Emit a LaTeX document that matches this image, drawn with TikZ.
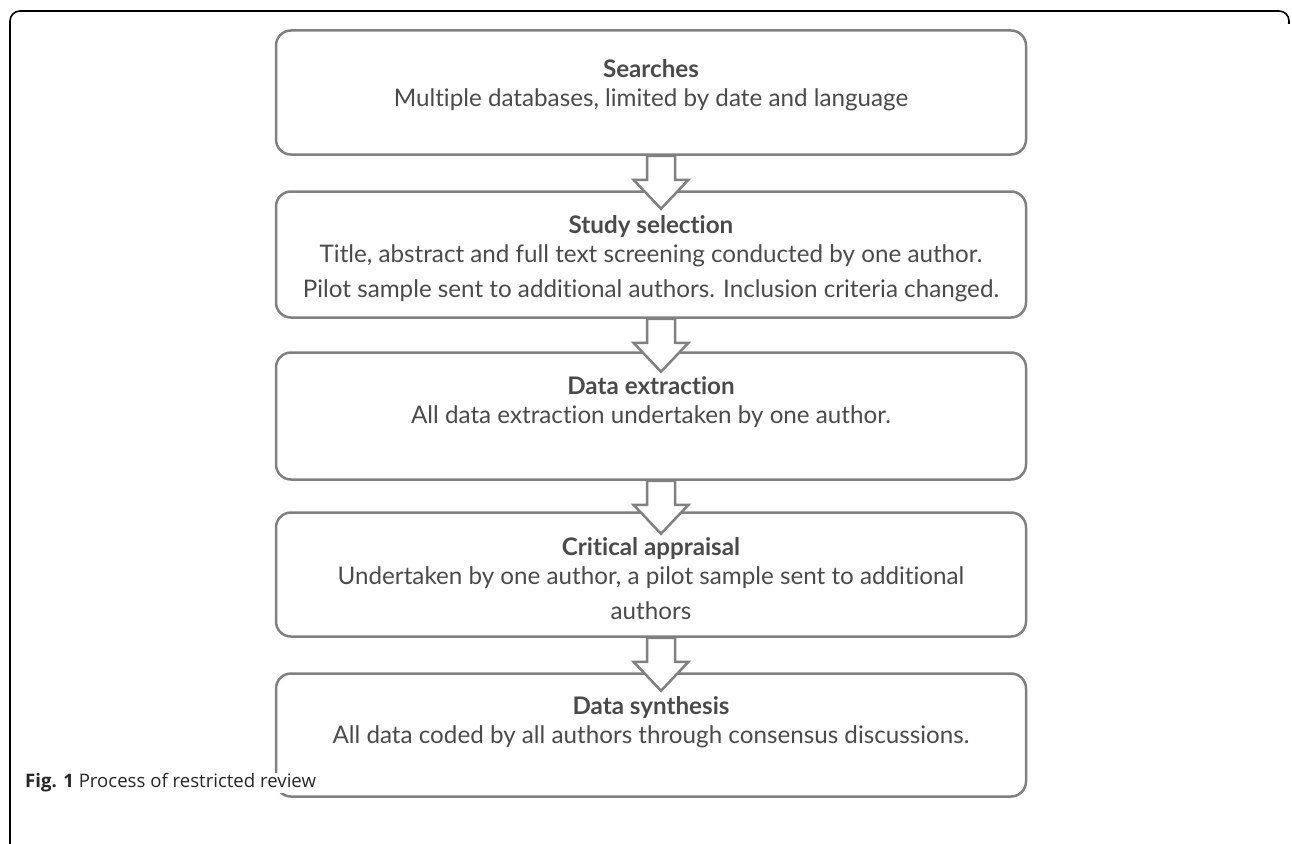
\documentclass[tikz,border=0pt]{standalone}
\usepackage{fontspec}
\setmainfont{Lato}[Ligatures=NoCommon]
\newfontfamily\capfont{Open Sans}
\usetikzlibrary{calc}
\definecolor{boxgray}{HTML}{808080}
\definecolor{txtgray}{HTML}{4A4A4A}
\tikzset{
  stage/.style={draw=boxgray, line width=2.5pt, rounded corners=15pt, minimum width=750pt, inner sep=0pt},
  stagetext/.style={text=txtgray, align=center, font=\fontsize{24.2}{35}\selectfont},
  flow/.style={draw=boxgray, line width=2.5pt, fill=white, line join=miter}
}
\begin{document}
\begin{tikzpicture}[x=1pt, y=-1pt]
  \useasboundingbox (0,0) rectangle (1292,843);
  \draw[black, line width=1.6pt, rounded corners=10pt] (10,845) -- (10,11) -- (1289,11) -- (1289,24);

  \node[stage, minimum height=124pt] (search) at (651,92.5) {};
  \node[stage, minimum height=126pt] (select) at (651,254.5) {};
  \node[stage, minimum height=127pt] (extract) at (651,416) {};
  \node[stage, minimum height=124pt] (appraise) at (651,574.5) {};
  \node[stage, minimum height=123pt] (synth) at (651,735) {};

  \node[stagetext] (searchtxt) at (651,85) {\textbf{Searches}\\[-6pt]Multiple databases, limited by date and language};
  \node[stagetext] (selecttxt) at (651,259) {\textbf{Study selection}\\[-6pt]Title, abstract and full text screening conducted by one author.\\Pilot sample sent to additional authors. Inclusion criteria changed.};
  \node[stagetext] (extracttxt) at (651,402) {\textbf{Data extraction}\\[-6pt]All data extraction undertaken by one author.};
  \node[stagetext] (appraisetxt) at (651,579) {\textbf{Critical appraisal}\\[-6pt]Undertaken by one author, a pilot sample sent to additional\\authors};
  \node[stagetext] (synthtxt) at (651,722) {\textbf{Data synthesis}\\[-6pt]All data coded by all authors through consensus discussions.};

  \foreach \a in {search, select, extract, appraise}
    \draw[flow] ($(\a.south)+(-4,0)$) -- ++(0,24) -- ++(-13.5,0) -- ++(27.5,29) -- ++(27.5,-29) -- ++(-13.5,0) -- ++(0,-24) -- cycle;

  \node[anchor=west, fill=white, inner sep=1pt, text=black!85, font=\capfont\fontsize{18.6}{22}\selectfont] (caption) at (24,783) {\textbf{Fig. 1} Process of restricted review};
\end{tikzpicture}
\end{document}
